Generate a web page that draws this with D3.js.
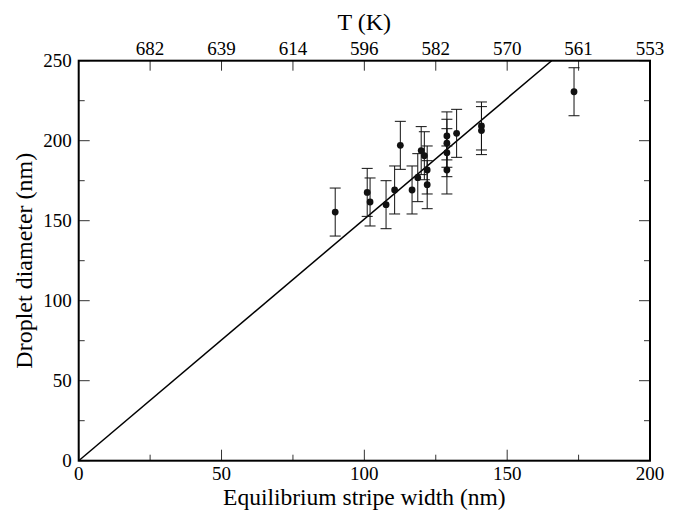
<!DOCTYPE html>
<html><head><meta charset="utf-8">
<script src="https://cdn.jsdelivr.net/npm/d3@7"></script>
<style>body{margin:0;background:#fff}svg{display:block}</style>
</head><body>
<script>
const stripeWidth = [89.8, 101.0, 102.0, 107.6, 110.6, 112.6, 116.7, 118.7, 119.9, 121.0, 122.0, 122.0, 128.9, 128.9, 128.9, 128.9, 132.3, 141.0, 141.0, 173.4];
const dropletDiameter = [155.4, 167.7, 161.7, 160.0, 169.2, 197.1, 169.2, 176.9, 193.8, 190.6, 181.7, 172.5, 203.0, 198.4, 192.5, 181.7, 204.6, 209.2, 206.3, 230.6];
const diameterError = [15, 15, 15, 15, 15, 15, 15, 15, 15, 15, 15, 15, 15, 15, 15, 15, 15, 15, 15, 15];
const fitSlope = 1.51;
const xTicks = [0, 50, 100, 150, 200];
const yTicks = [0, 50, 100, 150, 200, 250];
const topTickPositions = [25, 50, 75, 100, 125, 150, 175, 200];
const topTickLabels = ["682", "639", "614", "596", "582", "570", "561", "553"];

const W = 678, H = 510;
const m = {l: 78.7, r: 28, t: 60.7, b: 49.3};
const FONT = "'Liberation Serif', 'DejaVu Serif', serif";
const svg = d3.select("body").append("svg").attr("width", W).attr("height", H)
  .attr("font-family", FONT).style("font-family", FONT);
const x = d3.scaleLinear().domain([0, 200]).range([m.l, W - m.r]);
const y = d3.scaleLinear().domain([0, 250]).range([H - m.b, m.t]);
const fs = 19;

const g = svg.append("g");
const xMinor = d3.range(25, 200, 50);
const yMinor = d3.range(25, 250, 50);
function tick(x1, y1, x2, y2) {
  g.append("line").attr("x1", x1).attr("y1", y1).attr("x2", x2).attr("y2", y2)
    .attr("stroke", "#333").attr("stroke-width", 1);
}
xTicks.forEach(v => tick(x(v), y(0), x(v), y(0) - 11));
xMinor.forEach(v => tick(x(v), y(0), x(v), y(0) - 6));
yTicks.forEach(v => { tick(x(0), y(v), x(0) + 11, y(v)); tick(x(200), y(v), x(200) - 11, y(v)); });
yMinor.forEach(v => { tick(x(0), y(v), x(0) + 6, y(v)); tick(x(200), y(v), x(200) - 6, y(v)); });
topTickPositions.forEach(v => tick(x(v), y(250), x(v), y(250) + 10));

xTicks.forEach(v => g.append("text").attr("x", x(v)).attr("y", y(0) + 19).attr("text-anchor", "middle").attr("font-size", fs).text(v));
yTicks.forEach(v => g.append("text").attr("x", x(0) - 7).attr("y", y(v) + 6.5).attr("text-anchor", "end").attr("font-size", fs).text(v));
topTickPositions.forEach((v, i) => g.append("text").attr("x", x(v)).attr("y", y(250) - 6).attr("text-anchor", "middle").attr("font-size", fs).text(topTickLabels[i]));

svg.append("text").attr("x", (x(0) + x(200)) / 2).attr("y", 505).attr("text-anchor", "middle").attr("font-size", 23.5).text("Equilibrium stripe width (nm)");
svg.append("text").attr("x", (x(0) + x(200)) / 2).attr("y", 29.5).attr("text-anchor", "middle").attr("font-size", 24).text("T (K)");
svg.append("text").attr("transform", `translate(31.5,${(y(0) + y(250)) / 2}) rotate(-90)`).attr("text-anchor", "middle").attr("font-size", 24).text("Droplet diameter (nm)");

const xEnd = 250 / fitSlope;
svg.append("line").attr("x1", x(0)).attr("y1", y(0)).attr("x2", x(xEnd)).attr("y2", y(fitSlope * xEnd))
  .attr("stroke", "#000").attr("stroke-width", 1.5);

const data = stripeWidth.map((v, i) => ({x: v, y: dropletDiameter[i], e: diameterError[i]}));
const eb = svg.append("g").attr("stroke", "#111").attr("stroke-width", 1);
data.forEach(d => {
  eb.append("line").attr("x1", x(d.x)).attr("x2", x(d.x)).attr("y1", y(d.y - d.e)).attr("y2", y(d.y + d.e));
  eb.append("line").attr("x1", x(d.x) - 5.5).attr("x2", x(d.x) + 5.5).attr("y1", y(d.y - d.e)).attr("y2", y(d.y - d.e));
  eb.append("line").attr("x1", x(d.x) - 5.5).attr("x2", x(d.x) + 5.5).attr("y1", y(d.y + d.e)).attr("y2", y(d.y + d.e));
});
svg.append("g").selectAll("circle").data(data).join("circle")
  .attr("cx", d => x(d.x)).attr("cy", d => y(d.y)).attr("r", 3.4).attr("fill", "#111");

svg.append("rect").attr("x", x(0)).attr("y", y(250)).attr("width", x(200) - x(0)).attr("height", y(0) - y(250))
  .attr("fill", "none").attr("stroke", "#000").attr("stroke-width", 2);
</script>
</body></html>
